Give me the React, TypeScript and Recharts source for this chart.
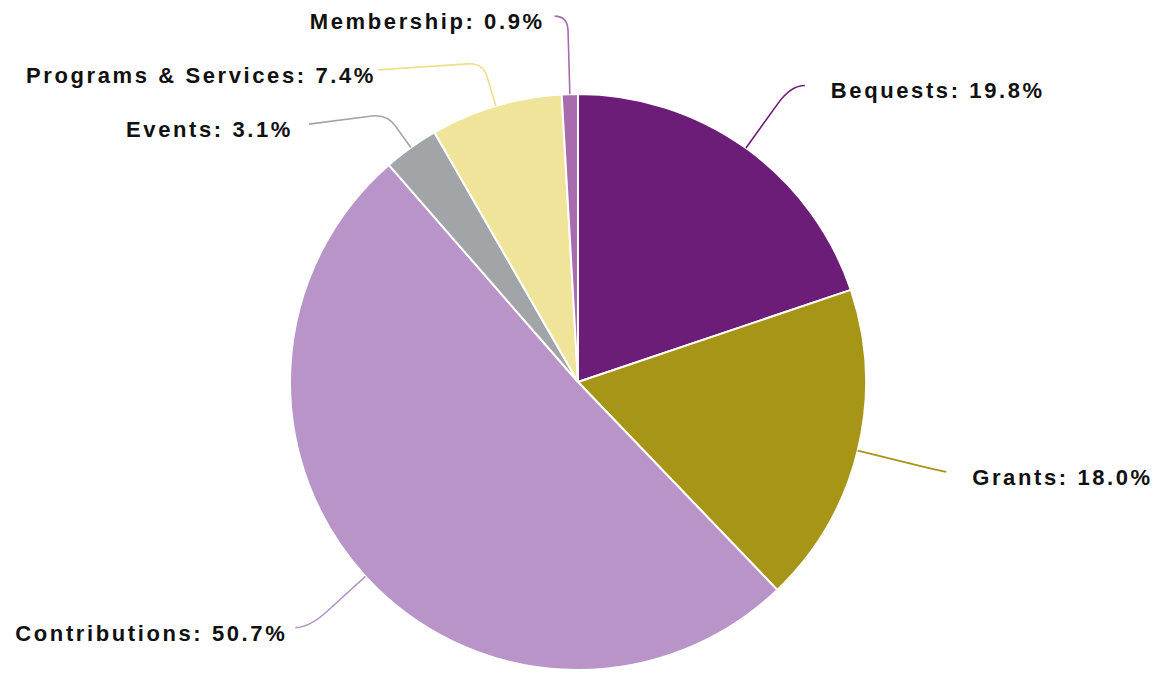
import React from 'react';
import { PieChart, Pie, Cell } from 'recharts';

const categories = ['Bequests', 'Grants', 'Contributions', 'Events', 'Programs & Services', 'Membership'];
const shares = [19.8, 18.0, 50.7, 3.1, 7.4, 0.9];
const colors = ['#6C1D78', '#A69516', '#B894C8', '#A1A5A7', '#F0E49B', '#A86BAD'];
const lineColors = ['#6C1D78', '#A69516', '#B894C8', '#A1A5A7', '#EEDF8C', '#A86BAD'];

// leader-line styling per label: radial extension, horizontal run, vertical drift, text gap
const labelLayout = [
  { ext: 77, h: 14, dy: 0, gap: 26, k: 22 },
  { ext: 85, h: 6, dy: 1, gap: 26, k: 20 },
  { ext: 76, h: -14, dy: 0, gap: 8, k: 25 },
  { ext: 41, h: -78, dy: 10, gap: 16, k: 15 },
  { ext: 45, h: -105, dy: 7, gap: 2, k: 15 },
  { ext: 78, h: -13, dy: 0, gap: 10, k: 15 },
];

const data = categories.map((name, i) => ({ name, value: shares[i] }));

const RAD = Math.PI / 180;
const polar = (cx: number, cy: number, r: number, angle: number) => ({
  x: cx + r * Math.cos(-angle * RAD),
  y: cy + r * Math.sin(-angle * RAD),
});

const renderLabel = (props: any) => {
  const { cx, cy, midAngle, outerRadius, index } = props;
  const lay = labelLayout[index];
  const p0 = polar(cx, cy, outerRadius, midAngle);
  const pc = polar(cx, cy, outerRadius + lay.ext, midAngle);
  const pa = polar(cx, cy, outerRadius + lay.ext - lay.k, midAngle);
  const sign = lay.h >= 0 ? 1 : -1;
  const p2 = { x: pc.x + lay.h, y: pc.y + lay.dy };
  const bend = Math.min(Math.abs(lay.h), lay.k);
  const pb = { x: pc.x + sign * bend, y: pc.y + lay.dy * (bend / Math.max(Math.abs(lay.h), 1)) };
  const d = `M${p0.x},${p0.y} L${pa.x},${pa.y} Q${pc.x},${pc.y} ${pb.x},${pb.y} L${p2.x},${p2.y}`;
  const tx = p2.x + sign * lay.gap;
  const ty = p2.y + 13;
  const text = `${categories[index]}: ${shares[index].toFixed(1)}%`;
  return (
    <g key={`lbl-${index}`}>
      <path d={d} fill="none" stroke={lineColors[index]} strokeWidth={1.6} />
      <text
        x={tx}
        y={ty}
        textAnchor={sign > 0 ? 'start' : 'end'}
        fontFamily="'Liberation Sans', Arial, sans-serif"
        fontWeight="bold"
        fontSize={22}
        letterSpacing={2.6}
        fill="#111"
      >
        {text}
      </text>
    </g>
  );
};

export default function App() {
  return (
    <div style={{ position: 'absolute', left: 0, top: 0, width: 1157, height: 675, background: '#fff' }}>
      <PieChart width={1157} height={675}>
        <Pie
          data={data}
          dataKey="value"
          nameKey="name"
          cx={573}
          cy={377}
          outerRadius={288}
          startAngle={90}
          endAngle={-270}
          stroke="#ffffff"
          strokeWidth={2}
          label={renderLabel}
          labelLine={false}
          isAnimationActive={false}
        >
          {data.map((d, i) => (
            <Cell key={d.name} fill={colors[i]} />
          ))}
        </Pie>
      </PieChart>
    </div>
  );
}
